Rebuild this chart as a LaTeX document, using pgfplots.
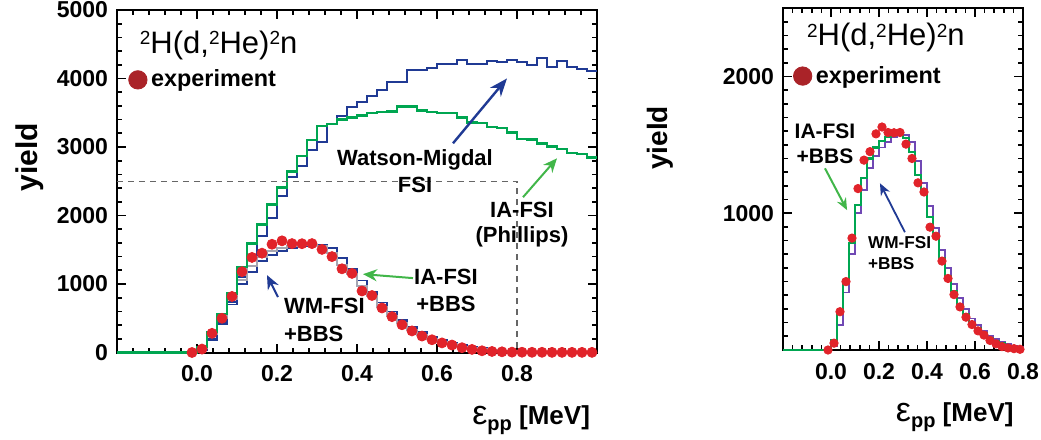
\documentclass[border=0pt]{standalone}
\usepackage{fontspec}
\setmainfont{Liberation Sans}
\usepackage{pgfplots}
\pgfplotsset{compat=1.18}
\usepackage{pgfplotstable}
\usetikzlibrary{arrows.meta}

\definecolor{datared}{RGB}{225,35,42}
\definecolor{legred}{RGB}{170,35,40}
\definecolor{hgreen}{RGB}{0,166,81}
\definecolor{agreen}{RGB}{65,182,73}
\definecolor{hblue}{RGB}{32,58,148}
\definecolor{hgray}{RGB}{165,165,178}
\definecolor{hpurple}{RGB}{112,72,180}

\pgfplotstableread{
x      wm     ia     wmb    iab
-0.2   0      0      0      0
0.000  30     80     30     70
0.025  190    300    180    270
0.050  440    560    420    510
0.075  740    860    700    780
0.100  1100   1250   1000   1060
0.125  1420   1590   1170   1260
0.150  1700   1870   1330   1400
0.175  1960   2160   1420   1480
0.200  2280   2410   1480   1530
0.225  2555   2640   1520   1555
0.250  2720   2870   1555   1570
0.275  2950   3100   1570   1575
0.300  3080   3310   1570   1550
0.325  3330   3340   1520   1450
0.350  3450   3400   1380   1280
0.375  3590   3430   1220   1150
0.400  3650   3460   1050   970
0.425  3740   3500   890    825
0.450  3835   3510   730    670
0.475  3947   3520   600    540
0.500  3947   3590   480    430
0.525  4118   3590   380    330
0.550  4118   3530   300    260
0.575  4153   3510   230    200
0.600  4216   3500   180    160
0.625  4216   3500   140    120
0.650  4265   3430   105    85
0.675  4216   3360   80     65
0.700  4216   3350   60     48
0.725  4250   3290   42     32
0.750  4240   3280   30     24
0.775  4275   3210   22     15
0.800  4240   3120   15     10
0.825  4196   3110   11     8
0.850  4300   3050   8      6
0.875  4167   3010   6      4
0.900  4250   2970   5      3
0.925  4167   2910   4      2
0.950  4142   2900   3      2
0.975  4103   2845   2      1
1.000  4103   2845   2      1
}\hist

\pgfplotstableread{
x y
-0.0125 0
0.0125 50
0.0375 280
0.0625 500
0.0875 818
0.1125 1180
0.1375 1388
0.1625 1450
0.1875 1580
0.2125 1630
0.2375 1590
0.2625 1588
0.2875 1590
0.3125 1505
0.3375 1400
0.3625 1222
0.3875 1155
0.4125 898
0.4375 832
0.4625 650
0.4875 523
0.5125 405
0.5375 315
0.5625 240
0.5875 186
0.6125 140
0.6375 109
0.6625 70
0.6875 45
0.7125 25
0.7375 15
0.7625 10
0.7875 5
0.8125 4
0.8375 3
0.8625 3
0.8875 2
0.9125 2
0.9375 2
0.9625 2
0.9875 2
}\expt

\newcommand\sups[1]{\raisebox{4.3pt}{\fontsize{9.5}{10}\selectfont #1}}

\pgfplotsset{
  panel/.style={
    scale only axis, clip=false,
    axis line style={line width=1pt},
    tick style={line width=0.85pt, black},
    major tick length=4.5pt, minor tick length=2.5pt,
    tick align=inside,
    tick label style={font=\fontsize{11.5}{12}\selectfont\bfseries},
    /pgf/number format/assume math mode=true,
    /pgf/number format/1000 sep={},
    xticklabel style={yshift=-3pt},
    yticklabel style={xshift=-1pt},
    legend style={draw=none, fill=none, font=\fontsize{11.7}{13}\selectfont\bfseries},
  }
}

\begin{document}
\begin{tikzpicture}
\useasboundingbox (-58.5pt,-43.75pt) rectangle (462pt,176.25pt);

% ---------------- left panel ----------------
\begin{axis}[panel,
  at={(0pt,0pt)}, anchor=south west,
  width=240pt, height=171.25pt,
  xmin=-0.2, xmax=1.0, ymin=0, ymax=5000,
  xtick={-0.2,0,0.2,0.4,0.6,0.8,1.0},
  xticklabels={,0.0,0.2,0.4,0.6,0.8,},
  minor xtick={-0.16,-0.12,-0.08,-0.04,0.04,0.08,0.12,0.16,0.24,0.28,0.32,0.36,0.44,0.48,0.52,0.56,0.64,0.68,0.72,0.76,0.84,0.88,0.92,0.96},
  ytick={0,1000,2000,3000,4000,5000},
  minor ytick={200,400,600,800,1200,1400,1600,1800,2200,2400,2600,2800,3200,3400,3600,3800,4200,4400,4600,4800},
  legend style={at={(axis description cs:0.011,0.796)}, anchor=west},
]
\addlegendimage{only marks, mark=*, mark size=4.6pt, color=legred}
\addlegendentry{experiment}

\addplot[forget plot, const plot, hblue, line width=1pt] table[x=x,y=wm] {\hist};
\addplot[forget plot, const plot, hblue, line width=0.9pt] table[x=x,y=wmb] {\hist};
\addplot[forget plot, only marks, mark=*, mark size=2.5pt, color=datared] table[x=x,y=y] {\expt};
\addplot[forget plot, const plot, hgray, line width=1pt] table[x=x,y=iab] {\hist};
\addplot[forget plot, const plot, hgreen, line width=1.2pt] table[x=x,y=ia] {\hist};

\draw[dashed, dash pattern=on 3pt off 2.5pt, black!60, line width=0.6pt]
  (axis cs:-0.2,2500) -- (axis cs:0.8,2500) -- (axis cs:0.8,0);

\node[anchor=base west, font=\fontsize{15.5}{16}\selectfont]
  at (axis description cs:0.033,0.874) {\sups{2}H(d,\sups{2}He)\sups{2}n};

\node[font=\fontsize{11}{13.5}\selectfont\bfseries, align=center] at (axis cs:0.545,2650) {Watson-Migdal\\FSI};
\node[font=\fontsize{11}{12.5}\selectfont\bfseries, align=center] at (axis cs:0.8125,1870) {IA-FSI\\(Phillips)};
\node[font=\fontsize{11}{14}\selectfont\bfseries, align=left, anchor=west] at (axis cs:0.2,474) {WM-FSI\\+BBS};
\node[font=\fontsize{11}{13.5}\selectfont\bfseries, align=center] at (axis cs:0.6225,911) {IA-FSI\\+BBS};

\draw[-{Stealth[length=9pt,width=7pt]}, hblue, line width=1.2pt] (axis cs:0.64,3054) -- (axis cs:0.775,4001);
\draw[-{Stealth[length=7pt,width=6pt]}, agreen, line width=1pt] (axis cs:0.815,2267) -- (axis cs:0.9,2835);
\draw[-{Stealth[length=7pt,width=6pt]}, hblue, line width=1pt] (axis cs:0.2025,809) -- (axis cs:0.175,1130);
\draw[-{Stealth[length=7pt,width=6pt]}, agreen, line width=1pt] (axis cs:0.54,1086) -- (axis cs:0.415,1144);

\node[rotate=90, font=\fontsize{15}{15}\selectfont\bfseries] at (axis description cs:-0.181,0.571) {yield};
\node[anchor=base east, font=\fontsize{13}{13}\selectfont\bfseries] at (axis description cs:1,-0.209)
  {{\fontsize{17}{17}\selectfont\mdseries ε}\raisebox{-3pt}{\fontsize{10}{10}\selectfont pp} [MeV]};
\end{axis}

% ---------------- right panel ----------------
\begin{axis}[panel,
  at={(333pt,1.25pt)}, anchor=south west,
  width=120pt, height=171pt,
  xmin=-0.2, xmax=0.8, ymin=0, ymax=2500,
  xtick={-0.2,0,0.2,0.4,0.6,0.8},
  xticklabels={,0.0,0.2,0.4,0.6,0.8},
  minor xtick={-0.16,-0.12,-0.08,-0.04,0.04,0.08,0.12,0.16,0.24,0.28,0.32,0.36,0.44,0.48,0.52,0.56,0.64,0.68,0.72,0.76},
  ytick={0,1000,2000},
  yticklabels={,1000,2000},
  minor ytick={100,200,300,400,500,600,700,800,900,1100,1200,1300,1400,1500,1600,1700,1800,1900,2100,2200,2300,2400},
  legend style={at={(axis description cs:0.017,0.801)}, anchor=west},
]
\addlegendimage{only marks, mark=*, mark size=4.6pt, color=legred}
\addlegendentry{experiment}

\addplot[forget plot, only marks, mark=*, mark size=2.1pt, color=datared,
  restrict x to domain=-0.3:0.8] table[x=x,y=y] {\expt};
\addplot[forget plot, const plot, hpurple, line width=0.9pt,
  restrict x to domain=-0.3:0.801] table[x=x,y=wmb] {\hist};
\addplot[forget plot, const plot, hgreen, line width=1.1pt,
  restrict x to domain=-0.3:0.801] table[x=x,y=iab] {\hist};

\node[anchor=base west, font=\fontsize{15.5}{16}\selectfont]
  at (axis description cs:0.071,0.889) {\sups{2}H(d,\sups{2}He)\sups{2}n};

\node[font=\fontsize{10.5}{12.5}\selectfont\bfseries, align=center] at (axis cs:-0.025,1511) {IA-FSI\\+BBS};
\draw[-{Stealth[length=6pt,width=5pt]}, agreen, line width=1pt] (axis cs:-0.025,1328) -- (axis cs:0.067,1022);
\node[font=\fontsize{8.6}{10.5}\selectfont\bfseries, align=left, anchor=west] at (axis cs:0.125,708) {WM-FSI\\+BBS};
\draw[-{Stealth[length=6pt,width=5pt]}, hblue, line width=0.9pt] (axis cs:0.308,861) -- (axis cs:0.204,1219);

\node[rotate=90, font=\fontsize{14}{14}\selectfont\bfseries] at (axis description cs:-0.5125,0.62) {yield};
\node[anchor=base east, font=\fontsize{13}{13}\selectfont\bfseries] at (axis description cs:0.99,-0.21)
  {{\fontsize{17}{17}\selectfont\mdseries ε}\raisebox{-3pt}{\fontsize{10}{10}\selectfont pp} [MeV]};
\end{axis}
\end{tikzpicture}
\end{document}
